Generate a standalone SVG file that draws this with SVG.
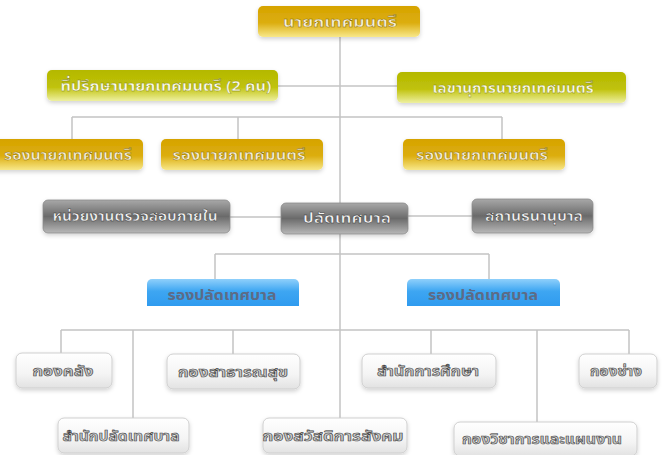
<svg xmlns="http://www.w3.org/2000/svg" width="666" height="455" viewBox="0 0 666 455">
<defs>
<linearGradient id="gGold" x1="0" y1="0" x2="0" y2="1"><stop offset="0" stop-color="#d6a300"/><stop offset="0.55" stop-color="#dcae10"/><stop offset="1" stop-color="#f8e88a"/></linearGradient>
<linearGradient id="gOlive" x1="0" y1="0" x2="0" y2="1"><stop offset="0" stop-color="#b4b800"/><stop offset="0.55" stop-color="#c0c20c"/><stop offset="1" stop-color="#eef0a0"/></linearGradient>
<linearGradient id="gGray" x1="0" y1="0" x2="0" y2="1"><stop offset="0" stop-color="#a8a8a8"/><stop offset="0.5" stop-color="#6a6a6a"/><stop offset="1" stop-color="#b8b8b8"/></linearGradient>
<linearGradient id="gBlue" x1="0" y1="0" x2="0" y2="1"><stop offset="0" stop-color="#8fd0fb"/><stop offset="0.45" stop-color="#3ea6f2"/><stop offset="1" stop-color="#2f9bef"/></linearGradient>
<linearGradient id="gWhite" x1="0" y1="0" x2="0" y2="1"><stop offset="0" stop-color="#ffffff"/><stop offset="0.6" stop-color="#f4f4f4"/><stop offset="1" stop-color="#e2e2e2"/></linearGradient>
<filter id="sh" x="-10%" y="-20%" width="120%" height="160%"><feDropShadow dx="0" dy="2" stdDeviation="2" flood-color="#000" flood-opacity="0.18"/></filter>
</defs>
<style>
.t{font-family:"Noto Sans Thai","Noto Sans","DejaVu Sans","Liberation Sans",sans-serif;font-size:14px;font-weight:bold;text-anchor:middle;dominant-baseline:central}
.gold rect{fill:url(#gGold);filter:url(#sh)}
.gold text{fill:#f6efd8;stroke:#8a6c00;stroke-width:0.4}
.olive rect{fill:url(#gOlive);filter:url(#sh)}
.olive text{fill:#fbfbe8;stroke:#7a7c00;stroke-width:0.3}
.gray rect{fill:url(#gGray);stroke:#8a8a8a;stroke-width:0.8;filter:url(#sh)}
.gray text{fill:#f4f4f4;stroke:#333;stroke-width:0.4}
.blue path{fill:url(#gBlue)}
.blue text{fill:#5d6b86}
.white rect{fill:url(#gWhite);stroke:#cfcfcf;stroke-width:1;filter:url(#sh)}
.white text{fill:#c8c8c8;stroke:#444;stroke-width:0.6}
.ln{stroke:#c4c4c4;stroke-width:1.5;fill:none}
</style>
<rect width="666" height="455" fill="#ffffff"/>
<g id="connectors" class="ln">
<path d="M340 37V203M340 234V418"/>
<path d="M278 86H397"/>
<path d="M72 117H502M72 117V140M238 117V140M502 117V140"/>
<path d="M230 217H281M408 216H472"/>
<path d="M215 254H489M215 254V279M489 254V279"/>
<path d="M61 330H629M61 330V353M133 330V418M233 330V354M431 330V354M537 330V422M629 330V354"/>
</g>
<g id="n1" class="gold"><rect x="258" y="6" width="162" height="31" rx="5"/><text class="t" x="340" y="22" textLength="114" lengthAdjust="spacingAndGlyphs">นายกเทศมนตรี</text></g>
<g id="n2" class="olive"><rect x="47" y="70" width="231" height="31" rx="5"/><text class="t" x="166" y="86" textLength="211" lengthAdjust="spacingAndGlyphs">ที่ปรึกษานายกเทศมนตรี (2 คน)</text></g>
<g id="n3" class="olive"><rect x="397" y="72" width="229" height="31" rx="5"/><text class="t" x="513" y="88" textLength="161" lengthAdjust="spacingAndGlyphs">เลขานุการนายกเทศมนตรี</text></g>
<g id="n4" class="gold"><rect x="-16" y="139" width="159" height="31" rx="5"/><text class="t" x="68" y="155" textLength="128" lengthAdjust="spacingAndGlyphs">รองนายกเทศมนตรี</text></g>
<g id="n5" class="gold"><rect x="161" y="139" width="162" height="31" rx="5"/><text class="t" x="239" y="155" textLength="133" lengthAdjust="spacingAndGlyphs">รองนายกเทศมนตรี</text></g>
<g id="n6" class="gold"><rect x="403" y="139" width="162" height="31" rx="5"/><text class="t" x="482" y="155" textLength="132" lengthAdjust="spacingAndGlyphs">รองนายกเทศมนตรี</text></g>
<g id="n7" class="gray"><rect x="43" y="200" width="187" height="33" rx="5"/><text class="t" x="135" y="216" textLength="165" lengthAdjust="spacingAndGlyphs">หน่วยงานตรวจสอบภายใน</text></g>
<g id="n8" class="gray"><rect x="281" y="203" width="127" height="31" rx="5"/><text class="t" x="347" y="218" textLength="88" lengthAdjust="spacingAndGlyphs">ปลัดเทศบาล</text></g>
<g id="n9" class="gray"><rect x="472" y="199" width="121" height="34" rx="5"/><text class="t" x="534" y="216" textLength="98" lengthAdjust="spacingAndGlyphs">สถานธนานุบาล</text></g>
<g id="n10" class="blue"><path d="M147 306V284a5 5 0 0 1 5-5H294a5 5 0 0 1 5 5V306Z"/><text class="t" x="222" y="295" textLength="109" lengthAdjust="spacingAndGlyphs">รองปลัดเทศบาล</text></g>
<g id="n11" class="blue"><path d="M407 306V284a5 5 0 0 1 5-5H555a5 5 0 0 1 5 5V306Z"/><text class="t" x="483" y="295" textLength="110" lengthAdjust="spacingAndGlyphs">รองปลัดเทศบาล</text></g>
<g id="n12" class="white"><rect x="16" y="353" width="96" height="35" rx="6"/><text class="t" x="63" y="371" textLength="61" lengthAdjust="spacingAndGlyphs">กองคลัง</text></g>
<g id="n13" class="white"><rect x="167" y="354" width="133" height="35" rx="6"/><text class="t" x="233" y="372" textLength="110" lengthAdjust="spacingAndGlyphs">กองสาธารณสุข</text></g>
<g id="n14" class="white"><rect x="362" y="354" width="134" height="34" rx="6"/><text class="t" x="428" y="371" textLength="102" lengthAdjust="spacingAndGlyphs">สำนักการศึกษา</text></g>
<g id="n15" class="white"><rect x="579" y="354" width="78" height="34" rx="6"/><text class="t" x="616" y="371" textLength="52" lengthAdjust="spacingAndGlyphs">กองช่าง</text></g>
<g id="n16" class="white"><rect x="58" y="418" width="131" height="35" rx="6"/><text class="t" x="121" y="436" textLength="117" lengthAdjust="spacingAndGlyphs">สำนักปลัดเทศบาล</text></g>
<g id="n17" class="white"><rect x="263" y="418" width="144" height="35" rx="6"/><text class="t" x="333" y="436" textLength="141" lengthAdjust="spacingAndGlyphs">กองสวัสดิการสังคม</text></g>
<g id="n18" class="white"><rect x="454" y="422" width="183" height="34" rx="6"/><text class="t" x="542" y="439" textLength="160" lengthAdjust="spacingAndGlyphs">กองวิชาการและแผนงาน</text></g>
</svg>
